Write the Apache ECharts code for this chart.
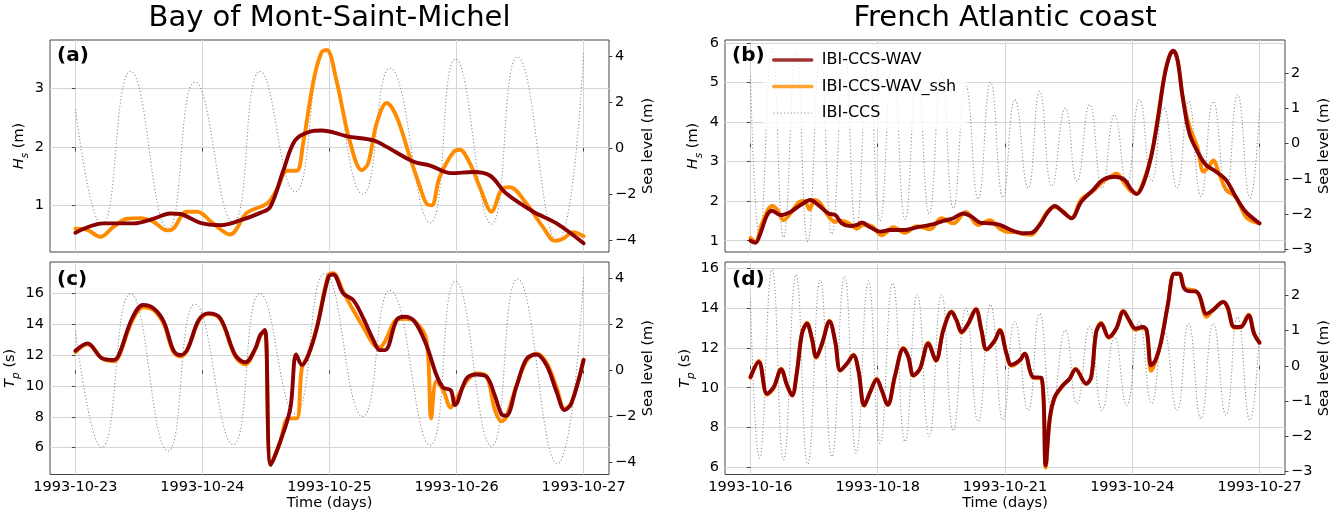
<!DOCTYPE html>
<html><head><meta charset="utf-8">
<script src="https://cdn.jsdelivr.net/npm/echarts@6/dist/echarts.min.js"></script>
<style>html,body{margin:0;padding:0;background:#fff}#c{width:1338px;height:515px}</style>
</head><body><div id="c"></div>
<script>
// ---------- tick labels ----------
const bayTickHours = [0, 24, 48, 72, 96];
const bayTickLabels = ['1993-10-23', '1993-10-24', '1993-10-25', '1993-10-26', '1993-10-27'];
const atlTickHours = [0, 66, 132, 198, 264];
const atlTickLabels = ['1993-10-16', '1993-10-18', '1993-10-21', '1993-10-24', '1993-10-27'];
const hsBayTicks = [1, 2, 3];
const hsAtlTicks = [1, 2, 3, 4, 5, 6];
const tpBayTicks = [6, 8, 10, 12, 14, 16];
const tpAtlTicks = [6, 8, 10, 12, 14, 16];
const slBayTicks = [-4, -2, 0, 2, 4];
const slAtlTicks = [-3, -2, -1, 0, 1, 2];
const seriesNames = ['IBI-CCS-WAV', 'IBI-CCS-WAV_ssh', 'IBI-CCS'];

// ---------- data: [hour since start, value] ----------
// Bay of Mont-Saint-Michel
const bayHsWav = [[0,0.53],[5.3,0.69],[11,0.69],[14.8,0.77],[17.9,0.86],[19.8,0.85],[23.6,0.70],[27.4,0.66],[31.1,0.74],[34.9,0.87],[36.8,0.97],[39.3,1.60],[41.5,2.11],[44.3,2.26],[46.5,2.28],[48.7,2.25],[51.3,2.18],[56.3,2.11],[58.8,2.0],[63.8,1.75],[67,1.68],[71,1.55],[75.1,1.57],[78.3,1.51],[81.4,1.20],[86.5,0.89],[90.9,0.69],[96,0.35]];
const bayHsSsh = [[0,0.60],[2.2,0.58],[4.7,0.46],[7.2,0.63],[9.7,0.77],[12.3,0.78],[14.7,0.72],[17.3,0.57],[18.5,0.60],[21,0.89],[23,0.89],[26,0.69],[29.2,0.50],[32.4,0.87],[36.2,1.03],[38,1.26],[40,1.59],[41.8,1.59],[43,2.05],[45,3.14],[46.5,3.62],[47.5,3.66],[49.3,3.14],[51.8,2.11],[54.1,1.60],[55.3,1.72],[56.9,2.40],[58.8,2.75],[60.7,2.51],[63.2,1.82],[65.1,1.31],[66.3,1.03],[67.3,1.0],[68.8,1.48],[71.4,1.91],[72.6,1.95],[74.5,1.72],[76.4,1.31],[78.6,0.89],[80.5,1.27],[82,1.31],[85.2,1.03],[88.3,0.63],[90.6,0.39],[92.2,0.43],[94,0.54],[96,0.47]];
const bayTpWav = [[0,12.28],[2.3,12.76],[5,11.79],[7.2,11.68],[8.2,12.0],[10.7,14.37],[12.8,15.24],[14.8,15.02],[16.7,14.16],[18.5,12.32],[19.8,12.0],[21.1,12.32],[23.3,14.27],[25.1,14.70],[27.4,14.37],[30.2,12.0],[32.1,11.53],[34,12.43],[34.9,13.29],[35.8,13.62],[36.9,4.88],[38.7,6.39],[40.6,8.55],[41.7,12.04],[42.8,11.35],[44,12.0],[45.6,13.73],[47.8,17.07],[48.7,17.22],[50.6,15.99],[52.5,15.56],[54.4,14.37],[56.3,12.97],[57.5,12.32],[58.5,12.32],[60.7,14.27],[62.2,14.48],[64.1,14.16],[66.3,12.65],[68.2,10.71],[69.5,9.88],[70.9,9.73],[71.7,8.76],[73.9,10.49],[75.8,10.74],[77.7,10.59],[79.2,9.41],[80.5,8.16],[81.4,8.07],[83.3,9.95],[85.2,11.74],[87.1,12.04],[89,11.35],[90.9,9.62],[92.4,8.44],[93.7,8.87],[96,11.68]];
const bayTpSsh = [[0,12.2],[2.3,12.7],[5,11.8],[7.2,11.6],[8.2,11.9],[10.7,14.2],[12.8,15.1],[14.8,14.9],[16.7,14.0],[18.5,12.2],[19.8,11.9],[21.1,12.3],[23.3,14.2],[25.1,14.65],[27.4,14.3],[30.2,11.9],[32.1,11.4],[34,12.4],[34.9,13.2],[35.8,13.6],[36.9,4.9],[38.7,6.4],[40.2,7.9],[41.8,7.9],[42.8,11.2],[44,12.0],[45.6,13.8],[47.8,17.2],[48.7,17.3],[50.6,16.1],[52.5,14.9],[54.4,13.8],[56.3,12.7],[57.5,12.5],[58.5,12.9],[60.7,14.3],[62.2,14.35],[64.1,14.2],[66.3,13.0],[67.2,7.9],[68.2,10.3],[69.5,9.7],[70.9,8.6],[71.7,9.0],[73.9,10.3],[75.8,10.8],[77.7,10.6],[79.2,8.5],[80.5,7.7],[81.4,8.0],[83.3,10.0],[85.2,11.6],[87.1,12.1],[89,11.5],[90.9,9.9],[92.4,8.5],[93.7,8.9],[96,11.7]];
const baySeaLevel = [[0,1.70],[5.0,-3.35],[10.4,3.33],[17.5,-3.5],[22.6,2.87],[29.8,-3.22],[34.9,3.33],[41.5,-1.9],[47.1,4.2],[54.3,-2.0],[59.4,3.47],[67,-3.25],[71.8,3.87],[78.6,-3.3],[83.5,3.96],[91,-4.05],[96,4.13]];

// French Atlantic coast
const atlHsWav = [[0,1.0],[2.6,0.95],[5.2,1.19],[8.6,1.65],[11.2,1.76],[15.5,1.65],[20.7,1.73],[25.9,1.9],[31,2.03],[35.3,1.9],[40.5,1.69],[44,1.65],[47.4,1.44],[51.7,1.37],[55.2,1.40],[57.8,1.46],[62.1,1.34],[67.2,1.23],[72.4,1.27],[79.3,1.27],[86.2,1.34],[93.1,1.40],[100,1.50],[105.2,1.57],[110.3,1.69],[114.7,1.61],[119,1.46],[124.1,1.44],[129.3,1.40],[136.2,1.25],[141.4,1.19],[145.7,1.20],[150,1.40],[154.3,1.73],[157.8,1.88],[162,1.73],[166.4,1.57],[171.6,1.99],[177.6,2.28],[182.7,2.54],[188.8,2.62],[194,2.54],[197.4,2.30],[200.3,2.18],[203.8,2.45],[207.8,3.13],[211.2,4.06],[214.6,5.15],[217.2,5.66],[219.3,5.81],[221.5,5.57],[224.1,4.65],[227.6,3.72],[231.9,3.25],[236.2,2.92],[241.4,2.75],[246.6,2.54],[251.7,2.11],[256.9,1.73],[264,1.44]];
const atlHsSsh = [[0,1.07],[2.6,0.97],[6,1.44],[11.2,1.88],[13.8,1.79],[17.2,1.52],[20.7,1.69],[25.5,1.99],[27.9,2.01],[30.7,1.79],[33.1,2.03],[36.2,1.95],[40,1.65],[44,1.48],[47.4,1.51],[51.7,1.42],[55.2,1.31],[58.6,1.40],[62.9,1.37],[68.1,1.14],[74.1,1.34],[80.2,1.20],[86.2,1.37],[93.1,1.29],[99.1,1.57],[105.2,1.44],[111.7,1.73],[118.1,1.40],[124.1,1.52],[129.3,1.31],[134.1,1.22],[137,1.22],[141.4,1.17],[145.7,1.15],[150,1.42],[154.3,1.75],[157.8,1.85],[162,1.75],[166.4,1.57],[171.6,2.05],[177.6,2.25],[182.7,2.5],[186,2.6],[189.8,2.7],[194,2.45],[197.4,2.25],[200.3,2.2],[203.8,2.5],[207.8,3.15],[211.2,4.1],[214.6,5.15],[217.2,5.66],[219.3,5.81],[221.5,5.55],[224.1,4.65],[227.6,3.9],[231.9,3.35],[235,2.75],[238,2.9],[240,3.03],[243,2.7],[246.6,2.3],[251.7,2.1],[256.9,1.6],[260,1.5],[264,1.44]];
const atlTpWav = [[0,10.54],[4.3,11.29],[8.6,9.7],[12.1,10.04],[15.9,10.92],[19,10.12],[21.6,9.62],[24.1,10.79],[26.7,12.7],[29.3,13.2],[31.9,12.45],[34.1,11.54],[37.1,12.2],[41,13.32],[44,12.29],[46.6,10.87],[50,11.2],[53.4,11.62],[56,10.87],[59,9.12],[62.1,9.79],[65.5,10.42],[68.1,9.87],[71.2,9.15],[75,10.62],[79.3,11.95],[81.9,11.54],[84.5,10.62],[87.9,10.95],[92.2,12.2],[96.2,11.37],[100,12.87],[104.3,13.79],[106.9,13.37],[109.5,12.79],[112.9,13.2],[116.9,13.92],[119.8,12.87],[122.4,11.92],[126.7,12.37],[129.3,12.87],[132.8,11.7],[135.3,11.15],[139.6,11.37],[142.2,11.7],[146.5,10.54],[150.9,10.5],[153.1,6.12],[155.2,8.45],[157.8,9.54],[162,10.12],[165.5,10.45],[168.6,10.92],[174.1,10.2],[176.7,10.54],[179.3,12.79],[181.9,13.2],[185.8,12.54],[189.7,12.96],[193.4,13.82],[196.5,13.37],[199.6,12.96],[203.4,13.04],[205.5,12.87],[207.8,11.12],[210,11.37],[212.9,12.29],[216.4,14.12],[219.8,15.7],[222.4,15.7],[225,14.95],[228.4,14.82],[230.7,14.82],[232.8,14.62],[236.5,13.7],[239.6,13.87],[245.2,14.29],[247.4,14.04],[250.9,13.04],[254.3,13.04],[258.3,13.62],[261.2,12.7],[264,12.25]];
const atlTpSsh = [[0,10.5],[4.3,11.35],[8.6,9.65],[12.1,10.0],[15.9,10.95],[19,10.1],[21.6,9.6],[24.1,10.8],[26.7,12.75],[29.3,13.25],[31.9,12.4],[34.1,11.5],[37.1,12.2],[41,13.35],[44,12.25],[46.6,10.85],[50,11.2],[53.4,11.65],[56,10.85],[59,9.1],[62.1,9.8],[65.5,10.45],[68.1,9.85],[71.2,9.15],[75,10.6],[79.3,12.0],[81.9,11.5],[84.5,10.6],[87.9,10.95],[92.2,12.25],[96.2,11.35],[100,12.9],[104.3,13.82],[106.9,13.35],[109.5,12.75],[112.9,13.2],[116.9,13.95],[119.8,12.85],[122.4,11.9],[126.7,12.35],[129.3,12.9],[132.8,11.7],[135.3,11.1],[139.6,11.35],[142.2,11.7],[146.5,10.5],[150.9,10.45],[153.1,6.0],[155.2,8.4],[157.8,9.5],[162,10.1],[165.5,10.45],[168.6,10.95],[174.1,10.2],[176.7,10.5],[179.3,12.8],[181.9,13.25],[185.8,12.5],[189.7,12.95],[193.4,13.85],[196.5,13.35],[199.6,12.9],[203.4,13.0],[205.5,12.8],[207.8,10.85],[210,11.3],[212.9,12.3],[216.4,14.15],[219.8,15.7],[222.4,15.7],[225,15.0],[228.4,14.9],[230.7,14.85],[232.8,14.6],[236.5,13.55],[239.6,13.85],[245.2,14.3],[247.4,14.0],[250.9,13.0],[254.3,13.05],[258.3,13.65],[261.2,12.7],[264,12.25]];
const atlSeaLevel = [[0,1.92],[4.7,-2.62],[11.2,2.73],[17.2,-2.67],[23.6,2.59],[29.7,-2.79],[36.2,2.44],[42.2,-2.58],[48.8,2.54],[54.8,-2.48],[61.2,2.41],[67.2,-2.2],[73.8,2.35],[80.2,-2.15],[86.5,2.02],[92.7,-2.0],[99.1,2.02],[105.2,-1.84],[111.7,1.64],[118.1,-1.58],[124.5,1.74],[131,-1.53],[137.1,1.26],[144,-1.26],[150,1.49],[156.3,-1.21],[163.3,1.01],[169.3,-1.07],[175.9,1.11],[182.4,-1.26],[188.8,0.82],[195.1,-1.12],[201.7,1.25],[208.1,-1.07],[214.3,1.01],[221.2,-1.26],[227.2,1.20],[233.6,-1.50],[240,1.20],[246.6,-1.40],[252.6,1.39],[259,-1.54],[264,1.01]];

// ---------- styling ----------
const FONT = 'DejaVu Sans';
const RED = '#8b0000', ORANGE = '#ff8c00', GRAY = '#8a8a8a';
const FRAME = '#444';
const minus = v => String(v).replace('-', '\u2212');

function xAxis(gridIndex, min, max, ticks, labels, showLabels) {
  return {
    type: 'value', gridIndex, min, max,
    axisLine: {show: false},
    axisTick: {show: true, length: 3.5, customValues: ticks, lineStyle: {color: FRAME}},
    axisLabel: {show: showLabels, customValues: ticks, formatter: v => labels[ticks.indexOf(v)],
      fontFamily: FONT, fontSize: 14.5, color: '#000', margin: 5},
    splitLine: {show: true, lineStyle: {color: '#d6d6d6', width: 1}},
    name: showLabels ? 'Time (days)' : '', nameLocation: 'middle', nameGap: 19,
    nameTextStyle: {fontFamily: FONT, fontSize: 14.5, color: '#000'}
  };
}
const sub = {
  i: {fontFamily: FONT, fontSize: 14.5, fontStyle: 'italic', color: '#000', verticalAlign: 'bottom', padding: [0, 0, 4, 0]},
  s: {fontFamily: FONT, fontSize: 10.5, fontStyle: 'italic', color: '#000', verticalAlign: 'bottom'},
  n: {fontFamily: FONT, fontSize: 14.5, color: '#000', verticalAlign: 'bottom', padding: [0, 0, 4, 0]}
};
function yLeft(gridIndex, min, max, ticks, name, gap) {
  return {
    type: 'value', gridIndex, position: 'left', min, max,
    axisLine: {show: false},
    axisTick: {show: true, length: 3.5, customValues: ticks, lineStyle: {color: FRAME}},
    axisLabel: {customValues: ticks, formatter: minus, fontFamily: FONT, fontSize: 14.5, color: '#000', margin: 6},
    splitLine: {show: true, lineStyle: {color: '#d6d6d6', width: 1}},
    name, nameLocation: 'middle', nameGap: gap,
    nameTextStyle: {fontFamily: FONT, fontSize: 14.5, color: '#000', rich: sub}
  };
}
function yRight(gridIndex, min, max, ticks, gap) {
  return {
    type: 'value', gridIndex, position: 'right', min, max,
    axisLine: {show: false},
    axisTick: {show: true, length: 3.5, customValues: ticks, lineStyle: {color: FRAME}},
    axisLabel: {customValues: ticks, formatter: minus, fontFamily: FONT, fontSize: 14.5, color: '#000', margin: 6},
    splitLine: {show: false},
    name: 'Sea level (m)', nameLocation: 'middle', nameGap: gap,
    nameTextStyle: {fontFamily: FONT, fontSize: 14.5, color: '#000'}
  };
}
function line(name, data, xi, yi, color, width, z, dotted) {
  return {
    type: 'line', name, data, xAxisIndex: xi, yAxisIndex: yi,
    symbol: 'none', smooth: dotted ? 0.5 : 0.35, z,
    lineStyle: {color, width, type: dotted ? [1.1, 2.3] : 'solid', cap: dotted ? 'butt' : 'round', join: 'round'},
    itemStyle: {color},
    emphasis: {disabled: true}, silent: true
  };
}
const grid = (left, top, width, height) => ({left, top, width, height, show: true, borderColor: FRAME, borderWidth: 1, backgroundColor: 'transparent', containLabel: false, outerBoundsMode: 'none'});

const option = {
  animation: false,
  backgroundColor: '#fff',
  grid: [grid(50, 40, 559, 212), grid(725, 40, 560, 212), grid(50, 262, 559, 212.5), grid(725, 262, 560, 212.5)],
  xAxis: [
    xAxis(0, -4.8, 100.8, bayTickHours, bayTickLabels, false),
    xAxis(1, -13.2, 277.2, atlTickHours, atlTickLabels, false),
    xAxis(2, -4.8, 100.8, bayTickHours, bayTickLabels, true),
    xAxis(3, -13.2, 277.2, atlTickHours, atlTickLabels, true)
  ],
  yAxis: [
    yLeft(0, 0.2, 3.83, hsBayTicks, '{i|H}{s|s}{n| (m)}', 17),
    yRight(0, -4.52, 4.70, slBayTicks, 24),
    yLeft(1, 0.715, 6.08, hsAtlTicks, '{i|H}{s|s}{n| (m)}', 20),
    yRight(1, -3.085, 2.95, slAtlTicks, 25),
    yLeft(2, 4.26, 18.03, tpBayTicks, '{i|T}{s|p}{n| (s)}', 27),
    yRight(2, -4.52, 4.70, slBayTicks, 24),
    yLeft(3, 5.66, 16.29, tpAtlTicks, '{i|T}{s|p}{n| (s)}', 27),
    yRight(3, -3.085, 2.95, slAtlTicks, 27)
  ],
  legend: {
    orient: 'vertical', left: 763, top: 44, itemWidth: 38, itemHeight: 14, itemGap: 10.5,
    padding: [8, 10, 8, 9], backgroundColor: 'rgba(255,255,255,0.8)', selectedMode: false,
    textStyle: {fontFamily: FONT, fontSize: 16, color: '#000', padding: [0, 0, 0, 5]},
    data: [
      {name: seriesNames[0], itemStyle: {opacity: 0}, lineStyle: {width: 3.5, opacity: 0.8}},
      {name: seriesNames[1], itemStyle: {opacity: 0}, lineStyle: {width: 3.5, opacity: 0.8}},
      {name: seriesNames[2], itemStyle: {opacity: 0}, lineStyle: {width: 1.1}}
    ]
  },
  graphic: [
    {type: 'text', x: 329.5, y: 4, style: {text: 'Bay of Mont-Saint-Michel', font: '29px "DejaVu Sans"', fill: '#000', textAlign: 'center', textVerticalAlign: 'top'}},
    {type: 'text', x: 1005, y: 4, style: {text: 'French Atlantic coast', font: '29px "DejaVu Sans"', fill: '#000', textAlign: 'center', textVerticalAlign: 'top'}},
    {type: 'text', x: 57, y: 46, z: 100, style: {text: '(a)', font: 'bold 20px "DejaVu Sans"', fill: '#000'}},
    {type: 'text', x: 732, y: 46, z: 100, style: {text: '(b)', font: 'bold 20px "DejaVu Sans"', fill: '#000'}},
    {type: 'text', x: 57, y: 270, z: 100, style: {text: '(c)', font: 'bold 20px "DejaVu Sans"', fill: '#000'}},
    {type: 'text', x: 732, y: 270, z: 100, style: {text: '(d)', font: 'bold 20px "DejaVu Sans"', fill: '#000'}}
  ],
  series: [
    line(seriesNames[2], baySeaLevel, 0, 1, GRAY, 1.1, 2, true),
    line(seriesNames[1], bayHsSsh, 0, 0, ORANGE, 3.9, 3),
    line(seriesNames[0], bayHsWav, 0, 0, RED, 3.9, 4),
    line(seriesNames[2], atlSeaLevel, 1, 3, GRAY, 1.1, 2, true),
    line(seriesNames[1], atlHsSsh, 1, 2, ORANGE, 3.9, 3),
    line(seriesNames[0], atlHsWav, 1, 2, RED, 3.9, 4),
    line(seriesNames[2], baySeaLevel, 2, 5, GRAY, 1.1, 2, true),
    line(seriesNames[1], bayTpSsh, 2, 4, ORANGE, 3.9, 3),
    line(seriesNames[0], bayTpWav, 2, 4, RED, 3.9, 4),
    line(seriesNames[2], atlSeaLevel, 3, 7, GRAY, 1.1, 2, true),
    line(seriesNames[1], atlTpSsh, 3, 6, ORANGE, 3.9, 3),
    line(seriesNames[0], atlTpWav, 3, 6, RED, 3.9, 4)
  ]
};
const chart = echarts.init(document.getElementById('c'), null, {renderer: 'canvas'});
chart.setOption(option);
</script>
</body></html>
